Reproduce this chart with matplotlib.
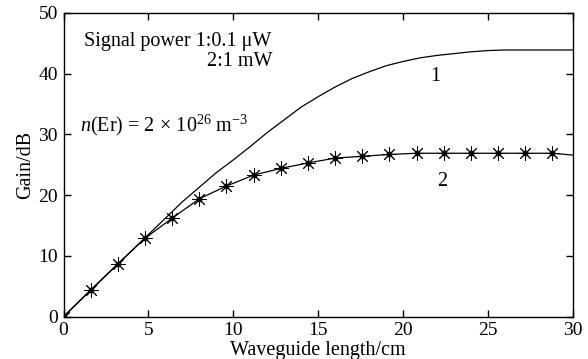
import matplotlib
matplotlib.use("Agg")
import matplotlib.pyplot as plt

plt.rcParams['font.family'] = ['Liberation Serif', 'DejaVu Serif']
plt.rcParams['mathtext.fontset'] = 'custom'
plt.rcParams['mathtext.rm'] = 'Liberation Serif'
plt.rcParams['mathtext.it'] = 'Liberation Serif:italic'
plt.rcParams['mathtext.bf'] = 'Liberation Serif:bold'

# Curve 1: signal power 0.1 uW
length1 = [0, 1, 2, 3, 4, 5, 6, 7, 8, 9, 10, 11, 12, 13, 14, 15, 16, 17, 18,
           19, 20, 21, 22, 23, 24, 25, 26, 27, 28, 29, 30]
gain1 = [0, 2.7, 5.4, 8.1, 10.8, 13.5, 16.2, 18.9, 21.3, 23.7, 25.8, 28.0,
         30.3, 32.4, 34.5, 36.2, 37.8, 39.2, 40.3, 41.3, 42.0, 42.6, 43.0,
         43.3, 43.6, 43.8, 43.9, 43.9, 43.9, 43.9, 43.9]

# Curve 2: signal power 1 mW (marked points)
length2 = [0, 1.6, 3.2, 4.8, 6.4, 8.0, 9.6, 11.2, 12.8, 14.4, 16.0, 17.6,
           19.2, 20.8, 22.4, 24.0, 25.6, 27.2, 28.8, 30]
gain2 = [0, 4.4, 8.7, 12.9, 16.2, 19.4, 21.5, 23.3, 24.4, 25.3, 26.1, 26.4,
         26.7, 26.9, 26.9, 26.9, 26.9, 26.9, 26.9, 26.6]

xticks = [0, 5, 10, 15, 20, 25, 30]
yticks = [0, 10, 20, 30, 40, 50]

fig = plt.figure(figsize=(5.88, 3.59), dpi=100)
ax = fig.add_axes([0.108, 0.118, 0.866, 0.846])

ax.plot(length1, gain1, color='black', lw=0.9)
ax.plot(length2, gain2, color='black', lw=0.9)
ax.plot(length2[:-1], gain2[:-1], linestyle='none', marker=(8, 2, 0),
        markersize=10.5, markeredgewidth=0.7, color='black')
ax.plot(length2[:-1], gain2[:-1], linestyle='none', marker='o',
        markersize=3.5, markeredgewidth=0.7, markerfacecolor='none',
        color='black')

ax.set_xlim(0, 30)
ax.set_ylim(0, 50)
ax.set_xticks(xticks)
ax.set_yticks(yticks)
ax.tick_params(direction='in', length=5, width=1, top=True, right=True,
               labelsize=14, pad=4)
for s in ax.spines.values():
    s.set_linewidth(1.0)

ax.set_xlabel('Waveguide length/cm', fontsize=14.5, labelpad=1)
ax.set_ylabel('Gain/dB', fontsize=14.5, labelpad=2)

ax.text(0.041, 0.905, 'Signal power 1:0.1 \u03bcW', transform=ax.transAxes,
        fontsize=14.5, ha='left', va='center')
ax.text(0.411, 0.84, '2:1 mW', transform=ax.transAxes,
        fontsize=14.5, ha='right', va='center')
ax.text(0.033, 0.63, r'$n$(Er) = 2$\,\times\,$10$^{26}$ m$^{-3}$',
        transform=ax.transAxes, fontsize=14.5, ha='left', va='center')
ax.text(21.9, 39.6, '1', fontsize=14.5, ha='center', va='center')
ax.text(22.3, 22.2, '2', fontsize=14.5, ha='center', va='center')

fig.savefig('out.png', dpi=100)
